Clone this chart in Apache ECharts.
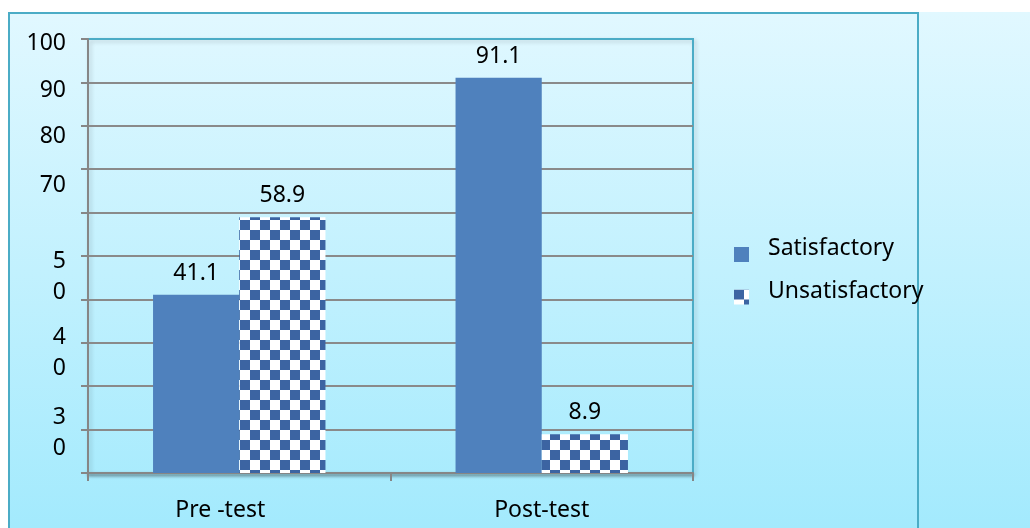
<!DOCTYPE html>
<html>
<head>
<meta charset="utf-8">
<script src="https://cdn.jsdelivr.net/npm/echarts@6/dist/echarts.min.js"></script>
<style>
  html, body { margin: 0; padding: 0; background: #fff; overflow: hidden; }
  #bg { position: absolute; left: 8px; top: 12px; width: 1022px; height: 516px;
        background: linear-gradient(to bottom, #e1f8ff, #a3eafd); }
  #frame { position: absolute; left: 8px; top: 12px; width: 907px; height: 530px;
           border: 2px solid #4bacc6; }
  #chart { position: absolute; left: 0; top: 0; width: 1030px; height: 528px; }
</style>
</head>
<body>
<div id="bg"></div>
<div id="frame"></div>
<div id="chart"></div>
<script>
// data
const categories = ['Pre -test', 'Post-test'];
const satisfactory = [41.1, 91.1];
const unsatisfactory = [58.9, 8.9];
// y tick labels as they appear (some are broken over two lines, some cut off)
const yTickText = { 100: '100', 90: '90', 80: '80', 70: '70', 50: '5\n0', 40: '4\n0', 30: '3\n0' };

// spacer above each tick label, half height in px (pushes the label down)
const yTickShift = { 100: 4.5, 90: 8, 80: 11, 70: 16, 50: 21, 40: 53.5, 30: 90.5 };

const FONT = 'Noto Sans';
const FS = 23;

// checker pattern for the second series
const cv = document.createElement('canvas');
cv.width = 20;
cv.height = 20;
const ctx = cv.getContext('2d');
ctx.fillStyle = '#ffffff';
ctx.fillRect(0, 0, 20, 20);
ctx.fillStyle = '#3c64a2';
ctx.fillRect(0, 0, 10, 10);
ctx.fillRect(10, 10, 10, 10);
const checker = { image: cv, repeat: 'repeat' };

const yRich = { t: { fontSize: FS, lineHeight: 31, color: '#000', fontFamily: FONT } };
Object.keys(yTickShift).forEach(k => {
  yRich['g' + k] = { fontSize: 1, lineHeight: 2 * yTickShift[k], height: 2 * yTickShift[k] };
});

const gridColors = [];
for (let i = 0; i < 10; i++) gridColors.push('#8a8a8a');
gridColors.push('rgba(0,0,0,0)');

const chart = echarts.init(document.getElementById('chart'));
chart.setOption({
  animation: false,
  backgroundColor: 'transparent',
  textStyle: { fontFamily: FONT },
  grid: {
    left: 88, top: 39, width: 605, height: 434,
    show: true, borderColor: '#4bacc6', borderWidth: 2,
    backgroundColor: 'transparent',
    shadowColor: 'rgba(0,0,0,0.18)', shadowBlur: 4, shadowOffsetX: 2, shadowOffsetY: 2
  },
  legend: {
    orient: 'vertical',
    left: 734, top: 237,
    padding: 0,
    itemWidth: 15, itemHeight: 15, itemGap: 6,
    icon: 'rect',
    formatter: name => '{n|' + name + '}\n{s| }',
    textStyle: {
      fontSize: FS, color: '#000', fontFamily: FONT, padding: [0, 0, 0, 14],
      rich: {
        n: { fontSize: FS, lineHeight: 26, color: '#000', fontFamily: FONT },
        s: { fontSize: 1, lineHeight: 12, height: 12 }
      }
    },
    data: ['Satisfactory', 'Unsatisfactory']
  },
  xAxis: {
    type: 'category',
    data: categories,
    axisLine: { lineStyle: { color: '#868686', width: 2,
      shadowColor: 'rgba(0,0,0,0.45)', shadowBlur: 3, shadowOffsetY: 2 } },
    axisTick: { show: true, length: 8, lineStyle: { color: '#868686', width: 2 } },
    axisLabel: {
      fontSize: FS, color: '#000', margin: 26, fontFamily: FONT,
      formatter: (v, i) => i === 0 ? '{p|' + v + '}' : v,
      rich: { p: { fontSize: FS, color: '#000', padding: [0, 38, 0, 0], fontFamily: FONT } }
    }
  },
  yAxis: {
    type: 'value',
    min: 0, max: 100, interval: 10,
    axisLine: { show: true, lineStyle: { color: '#868686', width: 2 } },
    axisTick: { show: true, length: 7, lineStyle: { color: '#868686', width: 2 } },
    splitLine: { lineStyle: { color: gridColors, width: 2 } },
    axisLabel: {
      margin: 22,
      formatter: v => {
        const t = yTickText[v];
        if (!t) return '';
        const body = t.split('\n').map(s => '{t|' + s + '}').join('\n');
        return '{g' + v + '| }\n' + body;
      },
      rich: yRich
    }
  },
  series: [
    {
      name: 'Satisfactory',
      type: 'bar',
      data: satisfactory,
      barGap: '0%',
      barCategoryGap: '43%',
      itemStyle: { color: '#4f81bd' },
      label: { show: true, position: 'top', distance: 10, fontSize: FS, color: '#000', fontFamily: FONT }
    },
    {
      name: 'Unsatisfactory',
      type: 'bar',
      data: unsatisfactory,
      barGap: '0%',
      barCategoryGap: '43%',
      itemStyle: { color: checker },
      label: { show: true, position: 'top', distance: 10, fontSize: FS, color: '#000', fontFamily: FONT }
    }
  ]
});
</script>
</body>
</html>
